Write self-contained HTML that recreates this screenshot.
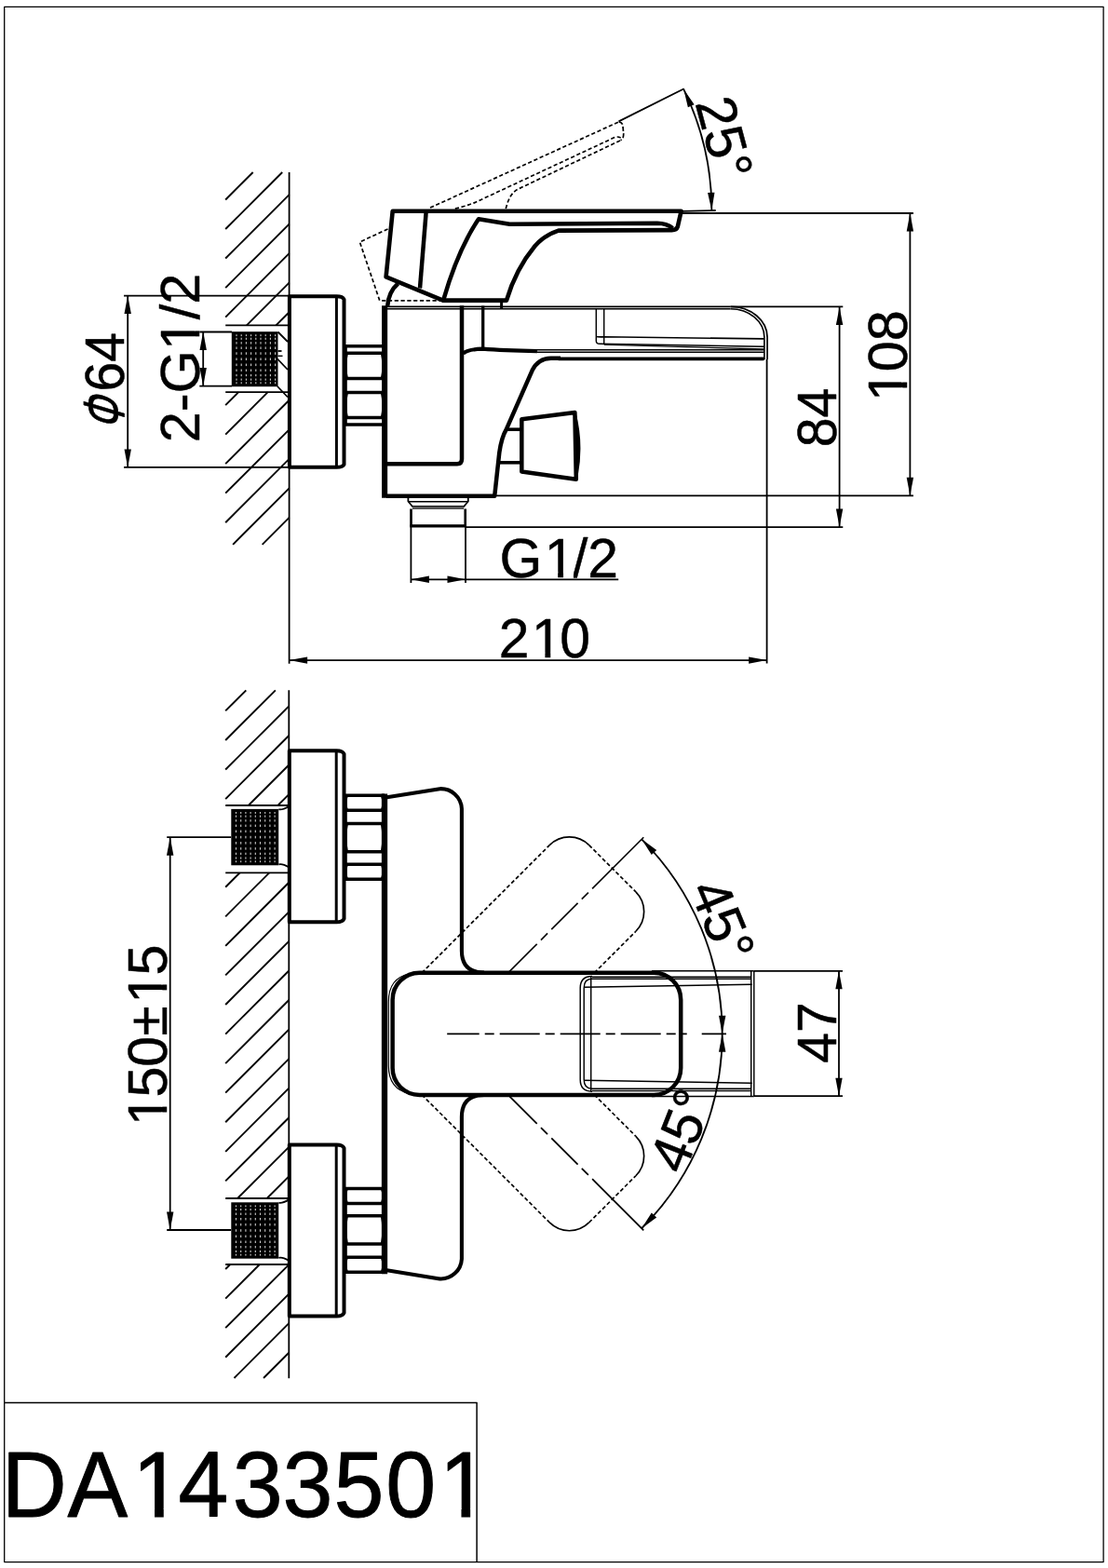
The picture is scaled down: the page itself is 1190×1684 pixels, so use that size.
<!DOCTYPE html>
<html lang="en"><head><meta charset="utf-8"><title>DA1433501</title>
<style>html,body{margin:0;padding:0;background:#fff}svg{display:block}</style></head>
<body>
<svg width="1190" height="1684" viewBox="0 0 1190 1684" font-family="'Liberation Sans', Arial, sans-serif" fill="none" stroke="#000" stroke-linecap="butt" stroke-linejoin="round">
<rect x="0" y="0" width="1190" height="1684" fill="#fff" stroke="none"/>
<g transform="translate(0.00,1629.40) rotate(0) scale(0.97,1)">
<text x="1.86 74.74 146.70 197.42 257.42 312.99 369.69 427.01 486.29" y="0" font-size="100" fill="#000" stroke="#000" stroke-width="0.9">DA1433501</text>
<rect x="152.20" y="-9.00" width="19.00" height="12.50" fill="#fff" stroke="none"/>
<rect x="181.20" y="-9.00" width="18.50" height="12.50" fill="#fff" stroke="none"/>
<rect x="491.79" y="-9.00" width="19.00" height="12.50" fill="#fff" stroke="none"/>
<rect x="520.79" y="-9.00" width="18.50" height="12.50" fill="#fff" stroke="none"/>
</g>
<g transform="translate(746.50,110.50) rotate(75) scale(0.98,1)">
<text x="0.00 33.36 66.72" y="0" font-size="60" fill="#000" stroke="#000" stroke-width="0.5">25°</text>
</g>
<g transform="translate(973.60,432.30) rotate(-90) scale(0.99,1)">
<text x="1.31 33.36 66.72" y="0" font-size="60" fill="#000" stroke="#000" stroke-width="0.5">108</text>
<rect x="4.61" y="-5.40" width="11.40" height="7.50" fill="#fff" stroke="none"/>
<rect x="22.01" y="-5.40" width="11.10" height="7.50" fill="#fff" stroke="none"/>
</g>
<g transform="translate(898.00,480.30) rotate(-90) scale(0.955,1)">
<text x="0.00 33.36" y="0" font-size="60" fill="#000" stroke="#000" stroke-width="0.5">84</text>
</g>
<g transform="translate(535.80,706.20) rotate(0) scale(0.98,1)">
<text x="0.00 35.91 66.72" y="0" font-size="60" fill="#000" stroke="#000" stroke-width="0.5">210</text>
<rect x="39.21" y="-5.40" width="11.40" height="7.50" fill="#fff" stroke="none"/>
<rect x="56.61" y="-5.40" width="11.10" height="7.50" fill="#fff" stroke="none"/>
</g>
<g transform="translate(536.50,619.50) rotate(0) scale(0.98,1)">
<text x="0.00 49.23 80.04 96.72" y="0" font-size="60" fill="#000" stroke="#000" stroke-width="0.5">G1/2</text>
<rect x="52.53" y="-5.40" width="11.40" height="7.50" fill="#fff" stroke="none"/>
<rect x="69.93" y="-5.40" width="11.10" height="7.50" fill="#fff" stroke="none"/>
</g>
<g transform="translate(132.5,457.4) rotate(-90)"><text transform="translate(-4.9,0) skewX(-16.5) scale(0.667,1)" font-size="62" fill="#000" stroke="#000" stroke-width="0.9">Φ</text><text transform="translate(36.9,0) scale(0.95,1)" font-size="60" fill="#000" stroke="#000" stroke-width="0.5">64</text></g>
<g transform="translate(214.30,475.20) rotate(-90) scale(0.99,1)">
<text x="0.00 33.36 53.34 100.32 133.38 150.06" y="0" font-size="60" fill="#000" stroke="#000" stroke-width="0.5">2-G1/2</text>
<rect x="103.62" y="-5.40" width="11.40" height="7.50" fill="#fff" stroke="none"/>
<rect x="121.02" y="-5.40" width="11.10" height="7.50" fill="#fff" stroke="none"/>
</g>
<g transform="translate(740.00,955.50) rotate(67.5) scale(0.98,1)">
<text x="0.00 33.36 66.72" y="0" font-size="60" fill="#000" stroke="#000" stroke-width="0.5">45°</text>
</g>
<g transform="translate(734.40,1262.80) rotate(-68.5) scale(0.98,1)">
<text x="0.00 33.36 66.72" y="0" font-size="60" fill="#000" stroke="#000" stroke-width="0.5">45°</text>
</g>
<g transform="translate(898.00,1141.80) rotate(-90) scale(0.98,1)">
<text x="0.00 33.36" y="0" font-size="60" fill="#000" stroke="#000" stroke-width="0.5">47</text>
</g>
<g transform="translate(178.80,1211.50) rotate(-90) scale(0.986,1)">
<text x="2.54 33.36 66.72 100.08 135.56 166.38" y="0" font-size="60" fill="#000" stroke="#000" stroke-width="0.5">150±15</text>
<rect x="5.84" y="-5.40" width="11.40" height="7.50" fill="#fff" stroke="none"/>
<rect x="23.24" y="-5.40" width="11.10" height="7.50" fill="#fff" stroke="none"/>
<rect x="138.86" y="-5.40" width="11.40" height="7.50" fill="#fff" stroke="none"/>
<rect x="156.26" y="-5.40" width="11.10" height="7.50" fill="#fff" stroke="none"/>
</g>
<rect x="4.7" y="7.4" width="1180.4" height="1670.2" stroke-width="1.3"/>
<path d="M4.7,1506.6 H512.1 V1677.6" stroke-width="1.5" />
<line x1="310.60" y1="185.00" x2="310.60" y2="712.80" stroke-width="1.8" />
<line x1="271.70" y1="185.00" x2="242.20" y2="214.50" stroke-width="1.9" />
<line x1="303.22" y1="185.00" x2="242.20" y2="246.02" stroke-width="1.9" />
<line x1="310.60" y1="209.14" x2="242.20" y2="277.54" stroke-width="1.9" />
<line x1="310.60" y1="240.66" x2="242.20" y2="309.06" stroke-width="1.9" />
<line x1="310.60" y1="272.18" x2="242.20" y2="340.58" stroke-width="1.9" />
<line x1="310.60" y1="303.70" x2="264.90" y2="349.40" stroke-width="1.9" />
<line x1="310.60" y1="335.22" x2="296.42" y2="349.40" stroke-width="1.9" />
<line x1="256.14" y1="421.20" x2="242.20" y2="435.14" stroke-width="1.9" />
<line x1="287.66" y1="421.20" x2="242.20" y2="466.66" stroke-width="1.9" />
<line x1="310.60" y1="429.78" x2="242.20" y2="498.18" stroke-width="1.9" />
<line x1="310.60" y1="461.30" x2="242.20" y2="529.70" stroke-width="1.9" />
<line x1="310.60" y1="492.82" x2="242.20" y2="561.22" stroke-width="1.9" />
<line x1="310.60" y1="524.34" x2="250.14" y2="584.80" stroke-width="1.9" />
<line x1="310.60" y1="555.86" x2="281.66" y2="584.80" stroke-width="1.9" />
<line x1="242.20" y1="349.40" x2="310.60" y2="349.40" stroke-width="1.8" />
<line x1="242.20" y1="421.20" x2="310.60" y2="421.20" stroke-width="1.8" />
<rect x="248.8" y="356.2" width="49.70" height="59.00" fill="#000" stroke="none"/>
<rect x="253.45" y="359.20" width="1.1" height="1.90" fill="#ccc" stroke="none"/>
<rect x="258.65" y="359.20" width="1.1" height="1.90" fill="#ccc" stroke="none"/>
<rect x="263.85" y="359.20" width="1.1" height="1.90" fill="#ccc" stroke="none"/>
<rect x="269.05" y="359.20" width="1.1" height="1.90" fill="#ccc" stroke="none"/>
<rect x="274.25" y="359.20" width="1.1" height="1.90" fill="#ccc" stroke="none"/>
<rect x="279.45" y="359.20" width="1.1" height="1.90" fill="#ccc" stroke="none"/>
<rect x="284.65" y="359.20" width="1.1" height="1.90" fill="#ccc" stroke="none"/>
<rect x="289.85" y="359.20" width="1.1" height="1.90" fill="#ccc" stroke="none"/>
<rect x="295.05" y="359.20" width="1.1" height="1.90" fill="#ccc" stroke="none"/>
<rect x="253.45" y="362.71" width="1.1" height="2.14" fill="#ccc" stroke="none"/>
<rect x="258.65" y="362.71" width="1.1" height="2.14" fill="#ccc" stroke="none"/>
<rect x="263.85" y="362.71" width="1.1" height="2.14" fill="#ccc" stroke="none"/>
<rect x="269.05" y="362.71" width="1.1" height="2.14" fill="#ccc" stroke="none"/>
<rect x="274.25" y="362.71" width="1.1" height="2.14" fill="#ccc" stroke="none"/>
<rect x="279.45" y="362.71" width="1.1" height="2.14" fill="#ccc" stroke="none"/>
<rect x="284.65" y="362.71" width="1.1" height="2.14" fill="#ccc" stroke="none"/>
<rect x="289.85" y="362.71" width="1.1" height="2.14" fill="#ccc" stroke="none"/>
<rect x="295.05" y="362.71" width="1.1" height="2.14" fill="#ccc" stroke="none"/>
<rect x="253.45" y="367.19" width="1.1" height="2.33" fill="#ccc" stroke="none"/>
<rect x="258.65" y="367.19" width="1.1" height="2.33" fill="#ccc" stroke="none"/>
<rect x="263.85" y="367.19" width="1.1" height="2.33" fill="#ccc" stroke="none"/>
<rect x="269.05" y="367.19" width="1.1" height="2.33" fill="#ccc" stroke="none"/>
<rect x="274.25" y="367.19" width="1.1" height="2.33" fill="#ccc" stroke="none"/>
<rect x="279.45" y="367.19" width="1.1" height="2.33" fill="#ccc" stroke="none"/>
<rect x="284.65" y="367.19" width="1.1" height="2.33" fill="#ccc" stroke="none"/>
<rect x="289.85" y="367.19" width="1.1" height="2.33" fill="#ccc" stroke="none"/>
<rect x="295.05" y="367.19" width="1.1" height="2.33" fill="#ccc" stroke="none"/>
<rect x="253.45" y="372.46" width="1.1" height="2.48" fill="#ccc" stroke="none"/>
<rect x="258.65" y="372.46" width="1.1" height="2.48" fill="#ccc" stroke="none"/>
<rect x="263.85" y="372.46" width="1.1" height="2.48" fill="#ccc" stroke="none"/>
<rect x="269.05" y="372.46" width="1.1" height="2.48" fill="#ccc" stroke="none"/>
<rect x="274.25" y="372.46" width="1.1" height="2.48" fill="#ccc" stroke="none"/>
<rect x="279.45" y="372.46" width="1.1" height="2.48" fill="#ccc" stroke="none"/>
<rect x="284.65" y="372.46" width="1.1" height="2.48" fill="#ccc" stroke="none"/>
<rect x="289.85" y="372.46" width="1.1" height="2.48" fill="#ccc" stroke="none"/>
<rect x="295.05" y="372.46" width="1.1" height="2.48" fill="#ccc" stroke="none"/>
<rect x="253.45" y="378.28" width="1.1" height="2.57" fill="#ccc" stroke="none"/>
<rect x="258.65" y="378.28" width="1.1" height="2.57" fill="#ccc" stroke="none"/>
<rect x="263.85" y="378.28" width="1.1" height="2.57" fill="#ccc" stroke="none"/>
<rect x="269.05" y="378.28" width="1.1" height="2.57" fill="#ccc" stroke="none"/>
<rect x="274.25" y="378.28" width="1.1" height="2.57" fill="#ccc" stroke="none"/>
<rect x="279.45" y="378.28" width="1.1" height="2.57" fill="#ccc" stroke="none"/>
<rect x="284.65" y="378.28" width="1.1" height="2.57" fill="#ccc" stroke="none"/>
<rect x="289.85" y="378.28" width="1.1" height="2.57" fill="#ccc" stroke="none"/>
<rect x="295.05" y="378.28" width="1.1" height="2.57" fill="#ccc" stroke="none"/>
<rect x="253.45" y="384.40" width="1.1" height="2.60" fill="#ccc" stroke="none"/>
<rect x="258.65" y="384.40" width="1.1" height="2.60" fill="#ccc" stroke="none"/>
<rect x="263.85" y="384.40" width="1.1" height="2.60" fill="#ccc" stroke="none"/>
<rect x="269.05" y="384.40" width="1.1" height="2.60" fill="#ccc" stroke="none"/>
<rect x="274.25" y="384.40" width="1.1" height="2.60" fill="#ccc" stroke="none"/>
<rect x="279.45" y="384.40" width="1.1" height="2.60" fill="#ccc" stroke="none"/>
<rect x="284.65" y="384.40" width="1.1" height="2.60" fill="#ccc" stroke="none"/>
<rect x="289.85" y="384.40" width="1.1" height="2.60" fill="#ccc" stroke="none"/>
<rect x="295.05" y="384.40" width="1.1" height="2.60" fill="#ccc" stroke="none"/>
<rect x="253.45" y="390.55" width="1.1" height="2.57" fill="#ccc" stroke="none"/>
<rect x="258.65" y="390.55" width="1.1" height="2.57" fill="#ccc" stroke="none"/>
<rect x="263.85" y="390.55" width="1.1" height="2.57" fill="#ccc" stroke="none"/>
<rect x="269.05" y="390.55" width="1.1" height="2.57" fill="#ccc" stroke="none"/>
<rect x="274.25" y="390.55" width="1.1" height="2.57" fill="#ccc" stroke="none"/>
<rect x="279.45" y="390.55" width="1.1" height="2.57" fill="#ccc" stroke="none"/>
<rect x="284.65" y="390.55" width="1.1" height="2.57" fill="#ccc" stroke="none"/>
<rect x="289.85" y="390.55" width="1.1" height="2.57" fill="#ccc" stroke="none"/>
<rect x="295.05" y="390.55" width="1.1" height="2.57" fill="#ccc" stroke="none"/>
<rect x="253.45" y="396.46" width="1.1" height="2.48" fill="#ccc" stroke="none"/>
<rect x="258.65" y="396.46" width="1.1" height="2.48" fill="#ccc" stroke="none"/>
<rect x="263.85" y="396.46" width="1.1" height="2.48" fill="#ccc" stroke="none"/>
<rect x="269.05" y="396.46" width="1.1" height="2.48" fill="#ccc" stroke="none"/>
<rect x="274.25" y="396.46" width="1.1" height="2.48" fill="#ccc" stroke="none"/>
<rect x="279.45" y="396.46" width="1.1" height="2.48" fill="#ccc" stroke="none"/>
<rect x="284.65" y="396.46" width="1.1" height="2.48" fill="#ccc" stroke="none"/>
<rect x="289.85" y="396.46" width="1.1" height="2.48" fill="#ccc" stroke="none"/>
<rect x="295.05" y="396.46" width="1.1" height="2.48" fill="#ccc" stroke="none"/>
<rect x="253.45" y="401.87" width="1.1" height="2.33" fill="#ccc" stroke="none"/>
<rect x="258.65" y="401.87" width="1.1" height="2.33" fill="#ccc" stroke="none"/>
<rect x="263.85" y="401.87" width="1.1" height="2.33" fill="#ccc" stroke="none"/>
<rect x="269.05" y="401.87" width="1.1" height="2.33" fill="#ccc" stroke="none"/>
<rect x="274.25" y="401.87" width="1.1" height="2.33" fill="#ccc" stroke="none"/>
<rect x="279.45" y="401.87" width="1.1" height="2.33" fill="#ccc" stroke="none"/>
<rect x="284.65" y="401.87" width="1.1" height="2.33" fill="#ccc" stroke="none"/>
<rect x="289.85" y="401.87" width="1.1" height="2.33" fill="#ccc" stroke="none"/>
<rect x="295.05" y="401.87" width="1.1" height="2.33" fill="#ccc" stroke="none"/>
<rect x="253.45" y="406.55" width="1.1" height="2.14" fill="#ccc" stroke="none"/>
<rect x="258.65" y="406.55" width="1.1" height="2.14" fill="#ccc" stroke="none"/>
<rect x="263.85" y="406.55" width="1.1" height="2.14" fill="#ccc" stroke="none"/>
<rect x="269.05" y="406.55" width="1.1" height="2.14" fill="#ccc" stroke="none"/>
<rect x="274.25" y="406.55" width="1.1" height="2.14" fill="#ccc" stroke="none"/>
<rect x="279.45" y="406.55" width="1.1" height="2.14" fill="#ccc" stroke="none"/>
<rect x="284.65" y="406.55" width="1.1" height="2.14" fill="#ccc" stroke="none"/>
<rect x="289.85" y="406.55" width="1.1" height="2.14" fill="#ccc" stroke="none"/>
<rect x="295.05" y="406.55" width="1.1" height="2.14" fill="#ccc" stroke="none"/>
<rect x="253.45" y="410.30" width="1.1" height="1.90" fill="#ccc" stroke="none"/>
<rect x="258.65" y="410.30" width="1.1" height="1.90" fill="#ccc" stroke="none"/>
<rect x="263.85" y="410.30" width="1.1" height="1.90" fill="#ccc" stroke="none"/>
<rect x="269.05" y="410.30" width="1.1" height="1.90" fill="#ccc" stroke="none"/>
<rect x="274.25" y="410.30" width="1.1" height="1.90" fill="#ccc" stroke="none"/>
<rect x="279.45" y="410.30" width="1.1" height="1.90" fill="#ccc" stroke="none"/>
<rect x="284.65" y="410.30" width="1.1" height="1.90" fill="#ccc" stroke="none"/>
<rect x="289.85" y="410.30" width="1.1" height="1.90" fill="#ccc" stroke="none"/>
<rect x="295.05" y="410.30" width="1.1" height="1.90" fill="#ccc" stroke="none"/>
<line x1="298.50" y1="356.50" x2="309.00" y2="367.00" stroke-width="1.8" />
<line x1="298.00" y1="385.50" x2="309.00" y2="397.00" stroke-width="1.8" />
<line x1="298.00" y1="415.00" x2="309.00" y2="426.50" stroke-width="1.8" />
<line x1="298.50" y1="377.00" x2="302.50" y2="377.00" stroke-width="1.8" />
<line x1="298.50" y1="382.30" x2="303.50" y2="382.30" stroke-width="1.4" />
<path d="M310.9,318.3 H361.5 Q368,318.3 369.5,321.5 V498.8 Q368,501.8 361.5,501.8 H310.9 Z" stroke-width="4.0" />
<line x1="361.40" y1="318.30" x2="361.40" y2="501.80" stroke-width="3.0" />
<line x1="369.50" y1="371.80" x2="413.00" y2="371.80" stroke-width="3.5" />
<line x1="369.50" y1="379.20" x2="413.00" y2="379.20" stroke-width="3.5" />
<line x1="369.50" y1="406.60" x2="413.00" y2="406.60" stroke-width="3.5" />
<line x1="369.50" y1="421.60" x2="413.00" y2="421.60" stroke-width="3.5" />
<line x1="369.50" y1="448.60" x2="413.00" y2="448.60" stroke-width="3.5" />
<line x1="369.50" y1="456.00" x2="413.00" y2="456.00" stroke-width="3.5" />
<line x1="371.20" y1="371.80" x2="371.20" y2="456.00" stroke-width="3.2" />
<path d="M372.8,379.2 Q369.6,392.9 372.8,406.6" stroke-width="2.4" />
<path d="M410,379.2 Q413,392.9 410,406.6" stroke-width="2.4" />
<path d="M372.8,421.6 Q369.6,435.1 372.8,448.6" stroke-width="2.4" />
<path d="M410,421.6 Q413,435.1 410,448.6" stroke-width="2.4" />
<line x1="413.10" y1="328.30" x2="413.10" y2="534.70" stroke-width="6.1" />
<path d="M415,532.7 H531.2 L536.3,486 Q538.5,470 543.9,460.8 L571.6,397.8 Q578,385 591.7,384.8 H602" stroke-width="4.5" />
<line x1="600.00" y1="385.30" x2="819.50" y2="385.30" stroke-width="3.8" stroke-linecap="round"/>
<path d="M496,328.3 V493 Q496,498.2 491,498.2 H414" stroke-width="4.5" />
<line x1="518.70" y1="328.50" x2="518.70" y2="376.00" stroke-width="3.3" />
<line x1="538.60" y1="325.00" x2="538.60" y2="331.00" stroke-width="3" />
<path d="M497.5,379.5 Q503,375 518.3,374.7 Q540,376.5 577,377.2" stroke-width="4.2" />
<line x1="415.00" y1="329.40" x2="784.70" y2="329.40" stroke-width="1.8" />
<line x1="415.00" y1="331.80" x2="784.70" y2="331.80" stroke-width="1.62" />
<path d="M784.7,329.4 A39.4,32.9 0 0 1 824.1,362.3 V386" stroke-width="1.8" />
<path d="M784.7,331.8 A36.2,30.5 0 0 1 820.9,362.3 V386" stroke-width="1.62" />
<path d="M640.3,331.8 V366 Q640.3,369.2 644,369.3 L820.6,372.3" stroke-width="1.4400000000000002" />
<path d="M648.7,331.8 V369.5" stroke-width="1.4400000000000002" />
<path d="M640.3,361.5 Q642,362 648.7,361.8 L820.6,363.9" stroke-width="1.62" />
<path d="M648.7,370.2 L820.6,375" stroke-width="1.26" />
<line x1="577.00" y1="375.80" x2="820.60" y2="375.80" stroke-width="1.4400000000000002" />
<line x1="577.00" y1="378.30" x2="820.60" y2="378.30" stroke-width="1.4400000000000002" />
<line x1="542.50" y1="461.20" x2="560.00" y2="461.20" stroke-width="3.6" />
<line x1="536.50" y1="496.80" x2="560.00" y2="496.80" stroke-width="3.6" />
<path d="M560.3,450.2 L617.4,443.1 L618.8,514.7 L560.3,506.6 Z" stroke-width="4.5" stroke-linejoin="round"/>
<path d="M617.4,443.1 Q626.5,478.5 618.8,514.7 Z" stroke-width="2.2" fill="#000" stroke-linejoin="round"/>
<path d="M438.4,534.5 V538.5 L443,544 H498.2 L502.8,538.5 V534.5" stroke-width="1.8" />
<line x1="439.00" y1="538.80" x2="502.30" y2="538.80" stroke-width="1.5" />
<line x1="443.00" y1="545.40" x2="498.20" y2="545.40" stroke-width="3.2" stroke="#555"/>
<path d="M441.5,546.5 V564.7 H499.7 V546.5" stroke-width="2.6" />
<line x1="440.30" y1="564.90" x2="500.90" y2="564.90" stroke-width="3.0" />
<path d="M421.7,226.8 H731.6 L727.8,243.5 Q726.5,247.3 721,247.1 L599.8,247.6 C590,251 581,256.5 574.3,264.4 C568,272 553,292 544,322.6 H475.8 L414.6,297.3 Z" stroke-width="4.6" stroke-linejoin="round"/>
<line x1="457.70" y1="227.00" x2="451.00" y2="309.50" stroke-width="4.5" />
<path d="M476.6,321 Q492,268 514,235.3 L547.4,240.7 L705.9,239.8 Q716,240 722.5,245" stroke-width="4.5" stroke-linejoin="round"/>
<path d="M416.1,329 Q417.5,313 427.5,304.5" stroke-width="4.5" />
<path d="M416.5,246 L386.4,259.9 L407.8,322.9 H473.4" stroke-width="1.7" stroke-dasharray="4.2 2.6"/>
<path d="M462,223.1 L664.8,130.8" stroke-width="1.7" stroke-dasharray="4.2 2.6"/>
<path d="M664.8,130.8 Q668.6,131.5 668.9,135 L669.7,143.5 Q669.8,149.5 666.5,150.4" stroke-width="1.7" stroke-dasharray="5 2.2"/>
<path d="M488.8,224.1 Q500,221.5 510.3,217.4 L660,147.6 Q664,146 667.5,148.5" stroke-width="1.7" stroke-dasharray="4.2 2.6"/>
<path d="M543.3,224.1 Q547,208 556,203.3 L667,150.5" stroke-width="1.7" stroke-dasharray="4.2 2.6"/>
<line x1="664.50" y1="130.40" x2="734.70" y2="95.20" stroke-width="1.8" />
<line x1="731.60" y1="226.90" x2="768.70" y2="226.00" stroke-width="1.8" />
<path d="M734.28,95.84 A297.6,297.6 0 0 1 764.40,226.3" stroke-width="1.8" />
<polygon points="734.28,95.84 745.62,112.13 738.87,115.15" fill="#000" stroke="none"/>
<polygon points="764.40,226.30 760.06,206.93 767.45,206.69" fill="#000" stroke="none"/>
<line x1="731.60" y1="229.00" x2="981.00" y2="229.00" stroke-width="1.8" />
<line x1="531.20" y1="532.30" x2="981.00" y2="532.30" stroke-width="1.8" />
<line x1="977.40" y1="229.00" x2="977.40" y2="532.30" stroke-width="1.8" />
<polygon points="977.40,229.00 981.10,248.50 973.70,248.50" fill="#000" stroke="none"/>
<polygon points="977.40,532.30 973.70,512.80 981.10,512.80" fill="#000" stroke="none"/>
<line x1="784.70" y1="329.40" x2="905.30" y2="329.40" stroke-width="1.8" />
<line x1="500.20" y1="566.10" x2="905.30" y2="566.10" stroke-width="1.8" />
<line x1="901.60" y1="329.50" x2="901.60" y2="566.10" stroke-width="1.8" />
<polygon points="901.60,329.50 905.30,349.00 897.90,349.00" fill="#000" stroke="none"/>
<polygon points="901.60,566.10 897.90,546.60 905.30,546.60" fill="#000" stroke="none"/>
<line x1="823.60" y1="386.00" x2="823.60" y2="712.50" stroke-width="1.8" />
<line x1="310.60" y1="709.10" x2="823.60" y2="709.10" stroke-width="1.8" />
<polygon points="310.60,709.10 330.10,705.40 330.10,712.80" fill="#000" stroke="none"/>
<polygon points="823.60,709.10 804.10,712.80 804.10,705.40" fill="#000" stroke="none"/>
<line x1="441.40" y1="565.50" x2="441.40" y2="626.00" stroke-width="1.8" />
<line x1="500.00" y1="565.50" x2="500.00" y2="626.00" stroke-width="1.8" />
<line x1="441.40" y1="622.30" x2="664.20" y2="622.30" stroke-width="1.8" />
<polygon points="441.40,622.30 460.90,618.60 460.90,626.00" fill="#000" stroke="none"/>
<polygon points="500.00,622.30 480.50,626.00 480.50,618.60" fill="#000" stroke="none"/>
<line x1="133.00" y1="317.60" x2="310.60" y2="317.60" stroke-width="1.8" />
<line x1="133.00" y1="501.90" x2="310.60" y2="501.90" stroke-width="1.8" />
<line x1="137.20" y1="317.60" x2="137.20" y2="501.90" stroke-width="1.8" />
<polygon points="137.20,317.60 140.90,337.10 133.50,337.10" fill="#000" stroke="none"/>
<polygon points="137.20,501.90 133.50,482.40 140.90,482.40" fill="#000" stroke="none"/>
<line x1="214.30" y1="356.50" x2="249.00" y2="356.50" stroke-width="1.8" />
<line x1="214.30" y1="414.60" x2="249.00" y2="414.60" stroke-width="1.8" />
<line x1="218.20" y1="356.50" x2="218.20" y2="414.60" stroke-width="1.8" />
<polygon points="218.20,356.50 221.90,376.00 214.50,376.00" fill="#000" stroke="none"/>
<polygon points="218.20,414.60 214.50,395.10 221.90,395.10" fill="#000" stroke="none"/>
<line x1="310.30" y1="741.30" x2="310.30" y2="1480.30" stroke-width="1.8" />
<line x1="264.30" y1="741.30" x2="242.20" y2="763.40" stroke-width="1.9" />
<line x1="295.86" y1="741.30" x2="242.20" y2="794.96" stroke-width="1.9" />
<line x1="310.30" y1="758.42" x2="242.20" y2="826.52" stroke-width="1.9" />
<line x1="310.30" y1="789.98" x2="242.20" y2="858.08" stroke-width="1.9" />
<line x1="310.30" y1="821.54" x2="266.84" y2="865.00" stroke-width="1.9" />
<line x1="310.30" y1="853.10" x2="298.40" y2="865.00" stroke-width="1.9" />
<line x1="257.66" y1="937.30" x2="242.20" y2="952.76" stroke-width="1.9" />
<line x1="289.22" y1="937.30" x2="242.20" y2="984.32" stroke-width="1.9" />
<line x1="310.30" y1="947.78" x2="242.20" y2="1015.88" stroke-width="1.9" />
<line x1="310.30" y1="979.34" x2="242.20" y2="1047.44" stroke-width="1.9" />
<line x1="310.30" y1="1010.90" x2="242.20" y2="1079.00" stroke-width="1.9" />
<line x1="310.30" y1="1042.46" x2="242.20" y2="1110.56" stroke-width="1.9" />
<line x1="310.30" y1="1074.02" x2="242.20" y2="1142.12" stroke-width="1.9" />
<line x1="310.30" y1="1105.58" x2="242.20" y2="1173.68" stroke-width="1.9" />
<line x1="310.30" y1="1137.14" x2="242.20" y2="1205.24" stroke-width="1.9" />
<line x1="310.30" y1="1168.70" x2="242.20" y2="1236.80" stroke-width="1.9" />
<line x1="310.30" y1="1200.26" x2="242.20" y2="1268.36" stroke-width="1.9" />
<line x1="310.30" y1="1231.82" x2="255.12" y2="1287.00" stroke-width="1.9" />
<line x1="310.30" y1="1263.38" x2="286.68" y2="1287.00" stroke-width="1.9" />
<line x1="247.24" y1="1358.00" x2="242.20" y2="1363.04" stroke-width="1.9" />
<line x1="278.80" y1="1358.00" x2="242.20" y2="1394.60" stroke-width="1.9" />
<line x1="310.30" y1="1358.06" x2="242.20" y2="1426.16" stroke-width="1.9" />
<line x1="310.30" y1="1389.62" x2="242.20" y2="1457.72" stroke-width="1.9" />
<line x1="310.30" y1="1421.18" x2="251.48" y2="1480.00" stroke-width="1.9" />
<line x1="310.30" y1="1452.74" x2="283.04" y2="1480.00" stroke-width="1.9" />
<line x1="242.20" y1="865.00" x2="310.30" y2="865.00" stroke-width="1.8" />
<line x1="242.20" y1="937.30" x2="310.30" y2="937.30" stroke-width="1.8" />
<line x1="242.20" y1="1287.00" x2="310.30" y2="1287.00" stroke-width="1.8" />
<line x1="242.20" y1="1358.00" x2="310.30" y2="1358.00" stroke-width="1.8" />
<rect x="248.3" y="868.9" width="50.90" height="60.40" fill="#000" stroke="none"/>
<rect x="252.95" y="872.00" width="1.1" height="1.90" fill="#ccc" stroke="none"/>
<rect x="258.15" y="872.00" width="1.1" height="1.90" fill="#ccc" stroke="none"/>
<rect x="263.35" y="872.00" width="1.1" height="1.90" fill="#ccc" stroke="none"/>
<rect x="268.55" y="872.00" width="1.1" height="1.90" fill="#ccc" stroke="none"/>
<rect x="273.75" y="872.00" width="1.1" height="1.90" fill="#ccc" stroke="none"/>
<rect x="278.95" y="872.00" width="1.1" height="1.90" fill="#ccc" stroke="none"/>
<rect x="284.15" y="872.00" width="1.1" height="1.90" fill="#ccc" stroke="none"/>
<rect x="289.35" y="872.00" width="1.1" height="1.90" fill="#ccc" stroke="none"/>
<rect x="294.55" y="872.00" width="1.1" height="1.90" fill="#ccc" stroke="none"/>
<rect x="252.95" y="875.59" width="1.1" height="2.14" fill="#ccc" stroke="none"/>
<rect x="258.15" y="875.59" width="1.1" height="2.14" fill="#ccc" stroke="none"/>
<rect x="263.35" y="875.59" width="1.1" height="2.14" fill="#ccc" stroke="none"/>
<rect x="268.55" y="875.59" width="1.1" height="2.14" fill="#ccc" stroke="none"/>
<rect x="273.75" y="875.59" width="1.1" height="2.14" fill="#ccc" stroke="none"/>
<rect x="278.95" y="875.59" width="1.1" height="2.14" fill="#ccc" stroke="none"/>
<rect x="284.15" y="875.59" width="1.1" height="2.14" fill="#ccc" stroke="none"/>
<rect x="289.35" y="875.59" width="1.1" height="2.14" fill="#ccc" stroke="none"/>
<rect x="294.55" y="875.59" width="1.1" height="2.14" fill="#ccc" stroke="none"/>
<rect x="252.95" y="880.18" width="1.1" height="2.33" fill="#ccc" stroke="none"/>
<rect x="258.15" y="880.18" width="1.1" height="2.33" fill="#ccc" stroke="none"/>
<rect x="263.35" y="880.18" width="1.1" height="2.33" fill="#ccc" stroke="none"/>
<rect x="268.55" y="880.18" width="1.1" height="2.33" fill="#ccc" stroke="none"/>
<rect x="273.75" y="880.18" width="1.1" height="2.33" fill="#ccc" stroke="none"/>
<rect x="278.95" y="880.18" width="1.1" height="2.33" fill="#ccc" stroke="none"/>
<rect x="284.15" y="880.18" width="1.1" height="2.33" fill="#ccc" stroke="none"/>
<rect x="289.35" y="880.18" width="1.1" height="2.33" fill="#ccc" stroke="none"/>
<rect x="294.55" y="880.18" width="1.1" height="2.33" fill="#ccc" stroke="none"/>
<rect x="252.95" y="885.58" width="1.1" height="2.48" fill="#ccc" stroke="none"/>
<rect x="258.15" y="885.58" width="1.1" height="2.48" fill="#ccc" stroke="none"/>
<rect x="263.35" y="885.58" width="1.1" height="2.48" fill="#ccc" stroke="none"/>
<rect x="268.55" y="885.58" width="1.1" height="2.48" fill="#ccc" stroke="none"/>
<rect x="273.75" y="885.58" width="1.1" height="2.48" fill="#ccc" stroke="none"/>
<rect x="278.95" y="885.58" width="1.1" height="2.48" fill="#ccc" stroke="none"/>
<rect x="284.15" y="885.58" width="1.1" height="2.48" fill="#ccc" stroke="none"/>
<rect x="289.35" y="885.58" width="1.1" height="2.48" fill="#ccc" stroke="none"/>
<rect x="294.55" y="885.58" width="1.1" height="2.48" fill="#ccc" stroke="none"/>
<rect x="252.95" y="891.54" width="1.1" height="2.57" fill="#ccc" stroke="none"/>
<rect x="258.15" y="891.54" width="1.1" height="2.57" fill="#ccc" stroke="none"/>
<rect x="263.35" y="891.54" width="1.1" height="2.57" fill="#ccc" stroke="none"/>
<rect x="268.55" y="891.54" width="1.1" height="2.57" fill="#ccc" stroke="none"/>
<rect x="273.75" y="891.54" width="1.1" height="2.57" fill="#ccc" stroke="none"/>
<rect x="278.95" y="891.54" width="1.1" height="2.57" fill="#ccc" stroke="none"/>
<rect x="284.15" y="891.54" width="1.1" height="2.57" fill="#ccc" stroke="none"/>
<rect x="289.35" y="891.54" width="1.1" height="2.57" fill="#ccc" stroke="none"/>
<rect x="294.55" y="891.54" width="1.1" height="2.57" fill="#ccc" stroke="none"/>
<rect x="252.95" y="897.80" width="1.1" height="2.60" fill="#ccc" stroke="none"/>
<rect x="258.15" y="897.80" width="1.1" height="2.60" fill="#ccc" stroke="none"/>
<rect x="263.35" y="897.80" width="1.1" height="2.60" fill="#ccc" stroke="none"/>
<rect x="268.55" y="897.80" width="1.1" height="2.60" fill="#ccc" stroke="none"/>
<rect x="273.75" y="897.80" width="1.1" height="2.60" fill="#ccc" stroke="none"/>
<rect x="278.95" y="897.80" width="1.1" height="2.60" fill="#ccc" stroke="none"/>
<rect x="284.15" y="897.80" width="1.1" height="2.60" fill="#ccc" stroke="none"/>
<rect x="289.35" y="897.80" width="1.1" height="2.60" fill="#ccc" stroke="none"/>
<rect x="294.55" y="897.80" width="1.1" height="2.60" fill="#ccc" stroke="none"/>
<rect x="252.95" y="904.09" width="1.1" height="2.57" fill="#ccc" stroke="none"/>
<rect x="258.15" y="904.09" width="1.1" height="2.57" fill="#ccc" stroke="none"/>
<rect x="263.35" y="904.09" width="1.1" height="2.57" fill="#ccc" stroke="none"/>
<rect x="268.55" y="904.09" width="1.1" height="2.57" fill="#ccc" stroke="none"/>
<rect x="273.75" y="904.09" width="1.1" height="2.57" fill="#ccc" stroke="none"/>
<rect x="278.95" y="904.09" width="1.1" height="2.57" fill="#ccc" stroke="none"/>
<rect x="284.15" y="904.09" width="1.1" height="2.57" fill="#ccc" stroke="none"/>
<rect x="289.35" y="904.09" width="1.1" height="2.57" fill="#ccc" stroke="none"/>
<rect x="294.55" y="904.09" width="1.1" height="2.57" fill="#ccc" stroke="none"/>
<rect x="252.95" y="910.14" width="1.1" height="2.48" fill="#ccc" stroke="none"/>
<rect x="258.15" y="910.14" width="1.1" height="2.48" fill="#ccc" stroke="none"/>
<rect x="263.35" y="910.14" width="1.1" height="2.48" fill="#ccc" stroke="none"/>
<rect x="268.55" y="910.14" width="1.1" height="2.48" fill="#ccc" stroke="none"/>
<rect x="273.75" y="910.14" width="1.1" height="2.48" fill="#ccc" stroke="none"/>
<rect x="278.95" y="910.14" width="1.1" height="2.48" fill="#ccc" stroke="none"/>
<rect x="284.15" y="910.14" width="1.1" height="2.48" fill="#ccc" stroke="none"/>
<rect x="289.35" y="910.14" width="1.1" height="2.48" fill="#ccc" stroke="none"/>
<rect x="294.55" y="910.14" width="1.1" height="2.48" fill="#ccc" stroke="none"/>
<rect x="252.95" y="915.68" width="1.1" height="2.33" fill="#ccc" stroke="none"/>
<rect x="258.15" y="915.68" width="1.1" height="2.33" fill="#ccc" stroke="none"/>
<rect x="263.35" y="915.68" width="1.1" height="2.33" fill="#ccc" stroke="none"/>
<rect x="268.55" y="915.68" width="1.1" height="2.33" fill="#ccc" stroke="none"/>
<rect x="273.75" y="915.68" width="1.1" height="2.33" fill="#ccc" stroke="none"/>
<rect x="278.95" y="915.68" width="1.1" height="2.33" fill="#ccc" stroke="none"/>
<rect x="284.15" y="915.68" width="1.1" height="2.33" fill="#ccc" stroke="none"/>
<rect x="289.35" y="915.68" width="1.1" height="2.33" fill="#ccc" stroke="none"/>
<rect x="294.55" y="915.68" width="1.1" height="2.33" fill="#ccc" stroke="none"/>
<rect x="252.95" y="920.47" width="1.1" height="2.14" fill="#ccc" stroke="none"/>
<rect x="258.15" y="920.47" width="1.1" height="2.14" fill="#ccc" stroke="none"/>
<rect x="263.35" y="920.47" width="1.1" height="2.14" fill="#ccc" stroke="none"/>
<rect x="268.55" y="920.47" width="1.1" height="2.14" fill="#ccc" stroke="none"/>
<rect x="273.75" y="920.47" width="1.1" height="2.14" fill="#ccc" stroke="none"/>
<rect x="278.95" y="920.47" width="1.1" height="2.14" fill="#ccc" stroke="none"/>
<rect x="284.15" y="920.47" width="1.1" height="2.14" fill="#ccc" stroke="none"/>
<rect x="289.35" y="920.47" width="1.1" height="2.14" fill="#ccc" stroke="none"/>
<rect x="294.55" y="920.47" width="1.1" height="2.14" fill="#ccc" stroke="none"/>
<rect x="252.95" y="924.30" width="1.1" height="1.90" fill="#ccc" stroke="none"/>
<rect x="258.15" y="924.30" width="1.1" height="1.90" fill="#ccc" stroke="none"/>
<rect x="263.35" y="924.30" width="1.1" height="1.90" fill="#ccc" stroke="none"/>
<rect x="268.55" y="924.30" width="1.1" height="1.90" fill="#ccc" stroke="none"/>
<rect x="273.75" y="924.30" width="1.1" height="1.90" fill="#ccc" stroke="none"/>
<rect x="278.95" y="924.30" width="1.1" height="1.90" fill="#ccc" stroke="none"/>
<rect x="284.15" y="924.30" width="1.1" height="1.90" fill="#ccc" stroke="none"/>
<rect x="289.35" y="924.30" width="1.1" height="1.90" fill="#ccc" stroke="none"/>
<rect x="294.55" y="924.30" width="1.1" height="1.90" fill="#ccc" stroke="none"/>
<rect x="248.3" y="1291.3" width="50.90" height="60.40" fill="#000" stroke="none"/>
<rect x="252.95" y="1294.40" width="1.1" height="1.90" fill="#ccc" stroke="none"/>
<rect x="258.15" y="1294.40" width="1.1" height="1.90" fill="#ccc" stroke="none"/>
<rect x="263.35" y="1294.40" width="1.1" height="1.90" fill="#ccc" stroke="none"/>
<rect x="268.55" y="1294.40" width="1.1" height="1.90" fill="#ccc" stroke="none"/>
<rect x="273.75" y="1294.40" width="1.1" height="1.90" fill="#ccc" stroke="none"/>
<rect x="278.95" y="1294.40" width="1.1" height="1.90" fill="#ccc" stroke="none"/>
<rect x="284.15" y="1294.40" width="1.1" height="1.90" fill="#ccc" stroke="none"/>
<rect x="289.35" y="1294.40" width="1.1" height="1.90" fill="#ccc" stroke="none"/>
<rect x="294.55" y="1294.40" width="1.1" height="1.90" fill="#ccc" stroke="none"/>
<rect x="252.95" y="1297.99" width="1.1" height="2.14" fill="#ccc" stroke="none"/>
<rect x="258.15" y="1297.99" width="1.1" height="2.14" fill="#ccc" stroke="none"/>
<rect x="263.35" y="1297.99" width="1.1" height="2.14" fill="#ccc" stroke="none"/>
<rect x="268.55" y="1297.99" width="1.1" height="2.14" fill="#ccc" stroke="none"/>
<rect x="273.75" y="1297.99" width="1.1" height="2.14" fill="#ccc" stroke="none"/>
<rect x="278.95" y="1297.99" width="1.1" height="2.14" fill="#ccc" stroke="none"/>
<rect x="284.15" y="1297.99" width="1.1" height="2.14" fill="#ccc" stroke="none"/>
<rect x="289.35" y="1297.99" width="1.1" height="2.14" fill="#ccc" stroke="none"/>
<rect x="294.55" y="1297.99" width="1.1" height="2.14" fill="#ccc" stroke="none"/>
<rect x="252.95" y="1302.58" width="1.1" height="2.33" fill="#ccc" stroke="none"/>
<rect x="258.15" y="1302.58" width="1.1" height="2.33" fill="#ccc" stroke="none"/>
<rect x="263.35" y="1302.58" width="1.1" height="2.33" fill="#ccc" stroke="none"/>
<rect x="268.55" y="1302.58" width="1.1" height="2.33" fill="#ccc" stroke="none"/>
<rect x="273.75" y="1302.58" width="1.1" height="2.33" fill="#ccc" stroke="none"/>
<rect x="278.95" y="1302.58" width="1.1" height="2.33" fill="#ccc" stroke="none"/>
<rect x="284.15" y="1302.58" width="1.1" height="2.33" fill="#ccc" stroke="none"/>
<rect x="289.35" y="1302.58" width="1.1" height="2.33" fill="#ccc" stroke="none"/>
<rect x="294.55" y="1302.58" width="1.1" height="2.33" fill="#ccc" stroke="none"/>
<rect x="252.95" y="1307.98" width="1.1" height="2.48" fill="#ccc" stroke="none"/>
<rect x="258.15" y="1307.98" width="1.1" height="2.48" fill="#ccc" stroke="none"/>
<rect x="263.35" y="1307.98" width="1.1" height="2.48" fill="#ccc" stroke="none"/>
<rect x="268.55" y="1307.98" width="1.1" height="2.48" fill="#ccc" stroke="none"/>
<rect x="273.75" y="1307.98" width="1.1" height="2.48" fill="#ccc" stroke="none"/>
<rect x="278.95" y="1307.98" width="1.1" height="2.48" fill="#ccc" stroke="none"/>
<rect x="284.15" y="1307.98" width="1.1" height="2.48" fill="#ccc" stroke="none"/>
<rect x="289.35" y="1307.98" width="1.1" height="2.48" fill="#ccc" stroke="none"/>
<rect x="294.55" y="1307.98" width="1.1" height="2.48" fill="#ccc" stroke="none"/>
<rect x="252.95" y="1313.94" width="1.1" height="2.57" fill="#ccc" stroke="none"/>
<rect x="258.15" y="1313.94" width="1.1" height="2.57" fill="#ccc" stroke="none"/>
<rect x="263.35" y="1313.94" width="1.1" height="2.57" fill="#ccc" stroke="none"/>
<rect x="268.55" y="1313.94" width="1.1" height="2.57" fill="#ccc" stroke="none"/>
<rect x="273.75" y="1313.94" width="1.1" height="2.57" fill="#ccc" stroke="none"/>
<rect x="278.95" y="1313.94" width="1.1" height="2.57" fill="#ccc" stroke="none"/>
<rect x="284.15" y="1313.94" width="1.1" height="2.57" fill="#ccc" stroke="none"/>
<rect x="289.35" y="1313.94" width="1.1" height="2.57" fill="#ccc" stroke="none"/>
<rect x="294.55" y="1313.94" width="1.1" height="2.57" fill="#ccc" stroke="none"/>
<rect x="252.95" y="1320.20" width="1.1" height="2.60" fill="#ccc" stroke="none"/>
<rect x="258.15" y="1320.20" width="1.1" height="2.60" fill="#ccc" stroke="none"/>
<rect x="263.35" y="1320.20" width="1.1" height="2.60" fill="#ccc" stroke="none"/>
<rect x="268.55" y="1320.20" width="1.1" height="2.60" fill="#ccc" stroke="none"/>
<rect x="273.75" y="1320.20" width="1.1" height="2.60" fill="#ccc" stroke="none"/>
<rect x="278.95" y="1320.20" width="1.1" height="2.60" fill="#ccc" stroke="none"/>
<rect x="284.15" y="1320.20" width="1.1" height="2.60" fill="#ccc" stroke="none"/>
<rect x="289.35" y="1320.20" width="1.1" height="2.60" fill="#ccc" stroke="none"/>
<rect x="294.55" y="1320.20" width="1.1" height="2.60" fill="#ccc" stroke="none"/>
<rect x="252.95" y="1326.49" width="1.1" height="2.57" fill="#ccc" stroke="none"/>
<rect x="258.15" y="1326.49" width="1.1" height="2.57" fill="#ccc" stroke="none"/>
<rect x="263.35" y="1326.49" width="1.1" height="2.57" fill="#ccc" stroke="none"/>
<rect x="268.55" y="1326.49" width="1.1" height="2.57" fill="#ccc" stroke="none"/>
<rect x="273.75" y="1326.49" width="1.1" height="2.57" fill="#ccc" stroke="none"/>
<rect x="278.95" y="1326.49" width="1.1" height="2.57" fill="#ccc" stroke="none"/>
<rect x="284.15" y="1326.49" width="1.1" height="2.57" fill="#ccc" stroke="none"/>
<rect x="289.35" y="1326.49" width="1.1" height="2.57" fill="#ccc" stroke="none"/>
<rect x="294.55" y="1326.49" width="1.1" height="2.57" fill="#ccc" stroke="none"/>
<rect x="252.95" y="1332.54" width="1.1" height="2.48" fill="#ccc" stroke="none"/>
<rect x="258.15" y="1332.54" width="1.1" height="2.48" fill="#ccc" stroke="none"/>
<rect x="263.35" y="1332.54" width="1.1" height="2.48" fill="#ccc" stroke="none"/>
<rect x="268.55" y="1332.54" width="1.1" height="2.48" fill="#ccc" stroke="none"/>
<rect x="273.75" y="1332.54" width="1.1" height="2.48" fill="#ccc" stroke="none"/>
<rect x="278.95" y="1332.54" width="1.1" height="2.48" fill="#ccc" stroke="none"/>
<rect x="284.15" y="1332.54" width="1.1" height="2.48" fill="#ccc" stroke="none"/>
<rect x="289.35" y="1332.54" width="1.1" height="2.48" fill="#ccc" stroke="none"/>
<rect x="294.55" y="1332.54" width="1.1" height="2.48" fill="#ccc" stroke="none"/>
<rect x="252.95" y="1338.08" width="1.1" height="2.33" fill="#ccc" stroke="none"/>
<rect x="258.15" y="1338.08" width="1.1" height="2.33" fill="#ccc" stroke="none"/>
<rect x="263.35" y="1338.08" width="1.1" height="2.33" fill="#ccc" stroke="none"/>
<rect x="268.55" y="1338.08" width="1.1" height="2.33" fill="#ccc" stroke="none"/>
<rect x="273.75" y="1338.08" width="1.1" height="2.33" fill="#ccc" stroke="none"/>
<rect x="278.95" y="1338.08" width="1.1" height="2.33" fill="#ccc" stroke="none"/>
<rect x="284.15" y="1338.08" width="1.1" height="2.33" fill="#ccc" stroke="none"/>
<rect x="289.35" y="1338.08" width="1.1" height="2.33" fill="#ccc" stroke="none"/>
<rect x="294.55" y="1338.08" width="1.1" height="2.33" fill="#ccc" stroke="none"/>
<rect x="252.95" y="1342.87" width="1.1" height="2.14" fill="#ccc" stroke="none"/>
<rect x="258.15" y="1342.87" width="1.1" height="2.14" fill="#ccc" stroke="none"/>
<rect x="263.35" y="1342.87" width="1.1" height="2.14" fill="#ccc" stroke="none"/>
<rect x="268.55" y="1342.87" width="1.1" height="2.14" fill="#ccc" stroke="none"/>
<rect x="273.75" y="1342.87" width="1.1" height="2.14" fill="#ccc" stroke="none"/>
<rect x="278.95" y="1342.87" width="1.1" height="2.14" fill="#ccc" stroke="none"/>
<rect x="284.15" y="1342.87" width="1.1" height="2.14" fill="#ccc" stroke="none"/>
<rect x="289.35" y="1342.87" width="1.1" height="2.14" fill="#ccc" stroke="none"/>
<rect x="294.55" y="1342.87" width="1.1" height="2.14" fill="#ccc" stroke="none"/>
<rect x="252.95" y="1346.70" width="1.1" height="1.90" fill="#ccc" stroke="none"/>
<rect x="258.15" y="1346.70" width="1.1" height="1.90" fill="#ccc" stroke="none"/>
<rect x="263.35" y="1346.70" width="1.1" height="1.90" fill="#ccc" stroke="none"/>
<rect x="268.55" y="1346.70" width="1.1" height="1.90" fill="#ccc" stroke="none"/>
<rect x="273.75" y="1346.70" width="1.1" height="1.90" fill="#ccc" stroke="none"/>
<rect x="278.95" y="1346.70" width="1.1" height="1.90" fill="#ccc" stroke="none"/>
<rect x="284.15" y="1346.70" width="1.1" height="1.90" fill="#ccc" stroke="none"/>
<rect x="289.35" y="1346.70" width="1.1" height="1.90" fill="#ccc" stroke="none"/>
<rect x="294.55" y="1346.70" width="1.1" height="1.90" fill="#ccc" stroke="none"/>
<path d="M299.4,869.2 Q303,870.2 310,866.2" stroke-width="1.8" />
<path d="M299.4,928.4000000000001 Q303,927.2 310,931.2" stroke-width="1.8" />
<path d="M299.4,1291.6 Q303,1292.6 310,1288.6" stroke-width="1.8" />
<path d="M299.4,1350.8 Q303,1349.6 310,1353.6" stroke-width="1.8" />
<path d="M310.8,806.2 H361.5 Q368,806.2 369.5,809.7 V986.7 Q368,990.2 361.5,990.2 H310.8 Z" stroke-width="4.0" />
<line x1="361.20" y1="806.20" x2="361.20" y2="990.20" stroke-width="3.0" />
<path d="M310.8,1229.5 H361.5 Q368,1229.5 369.5,1233.0 V1410.0 Q368,1413.5 361.5,1413.5 H310.8 Z" stroke-width="4.0" />
<line x1="361.20" y1="1229.50" x2="361.20" y2="1413.50" stroke-width="3.0" />
<line x1="369.50" y1="854.30" x2="413.00" y2="854.30" stroke-width="3.5" />
<line x1="369.50" y1="870.30" x2="413.00" y2="870.30" stroke-width="3.5" />
<line x1="369.50" y1="884.50" x2="413.00" y2="884.50" stroke-width="3.5" />
<line x1="369.50" y1="914.80" x2="413.00" y2="914.80" stroke-width="3.5" />
<line x1="369.50" y1="928.20" x2="413.00" y2="928.20" stroke-width="3.5" />
<line x1="369.50" y1="944.20" x2="413.00" y2="944.20" stroke-width="3.5" />
<line x1="371.20" y1="854.30" x2="371.20" y2="944.20" stroke-width="3.2" />
<path d="M372.8,854.3 Q369.6,862.3 372.8,870.3" stroke-width="2.4" />
<path d="M410,854.3 Q413,862.3 410,870.3" stroke-width="2.4" />
<path d="M372.8,884.5 Q369.6,899.65 372.8,914.8" stroke-width="2.4" />
<path d="M410,884.5 Q413,899.65 410,914.8" stroke-width="2.4" />
<path d="M372.8,928.2 Q369.6,936.2 372.8,944.2" stroke-width="2.4" />
<path d="M410,928.2 Q413,936.2 410,944.2" stroke-width="2.4" />
<line x1="369.50" y1="1276.40" x2="413.00" y2="1276.40" stroke-width="3.5" />
<line x1="369.50" y1="1292.40" x2="413.00" y2="1292.40" stroke-width="3.5" />
<line x1="369.50" y1="1305.80" x2="413.00" y2="1305.80" stroke-width="3.5" />
<line x1="369.50" y1="1336.10" x2="413.00" y2="1336.10" stroke-width="3.5" />
<line x1="369.50" y1="1350.30" x2="413.00" y2="1350.30" stroke-width="3.5" />
<line x1="369.50" y1="1366.30" x2="413.00" y2="1366.30" stroke-width="3.5" />
<line x1="371.20" y1="1276.40" x2="371.20" y2="1366.30" stroke-width="3.2" />
<path d="M372.8,1276.3999999999999 Q369.6,1284.3999999999999 372.8,1292.3999999999999" stroke-width="2.4" />
<path d="M410,1276.3999999999999 Q413,1284.3999999999999 410,1292.3999999999999" stroke-width="2.4" />
<path d="M372.8,1305.8 Q369.6,1320.9499999999998 372.8,1336.1" stroke-width="2.4" />
<path d="M410,1305.8 Q413,1320.9499999999998 410,1336.1" stroke-width="2.4" />
<path d="M372.8,1350.3 Q369.6,1358.3 372.8,1366.3" stroke-width="2.4" />
<path d="M410,1350.3 Q413,1358.3 410,1366.3" stroke-width="2.4" />
<path d="M413.0,852.4 V1368.2" stroke-width="6.3" />
<path d="M414,856.6 L472.4,847.2 A22.5,22.5 0 0 1 495.9,868.5 V1021 Q495.9,1044.6 520,1044.6" stroke-width="4.1" />
<path d="M414,1364 L472.4,1373.4 A22.5,22.5 0 0 0 495.9,1352.1 V1199.6 Q495.9,1176 520,1176" stroke-width="4.1" />
<path d="M453.05,1044.82 L590.23,907.64" stroke-width="1.7" stroke-dasharray="4.2 2.6"/>
<path d="M590.23,907.64 A30,30 0 0 1 632.65,907.64" stroke-width="1.7" />
<path d="M632.65,907.64 L682.86,957.85" stroke-width="1.7" stroke-dasharray="4.2 2.6"/>
<path d="M682.86,957.85 A30,30 0 0 1 682.86,1000.27" stroke-width="1.7" />
<path d="M638.31,1044.82 L682.86,1000.27" stroke-width="1.7" stroke-dasharray="4.2 2.6"/>
<path d="M691.27,899.23 L545.68,1044.82" stroke-width="1.7" stroke-dasharray="78 6 10 6 40 6 10 6 60"/>
<path d="M453.05,1175.78 L590.23,1312.96" stroke-width="1.7" stroke-dasharray="4.2 2.6"/>
<path d="M590.23,1312.96 A30,30 0 0 0 632.65,1312.96" stroke-width="1.7" />
<path d="M632.65,1312.96 L682.86,1262.75" stroke-width="1.7" stroke-dasharray="4.2 2.6"/>
<path d="M682.86,1262.75 A30,30 0 0 0 682.86,1220.33" stroke-width="1.7" />
<path d="M638.31,1175.78 L682.86,1220.33" stroke-width="1.7" stroke-dasharray="4.2 2.6"/>
<path d="M691.27,1321.37 L545.68,1175.78" stroke-width="1.7" stroke-dasharray="78 6 10 6 40 6 10 6 60"/>
<line x1="480.20" y1="1110.30" x2="780.00" y2="1110.30" stroke-width="1.7" stroke-dasharray="34.5 6 10 6 43 6 10 6 43 6 10 6 43 6 10 6 6 16 60"/>
<line x1="700.00" y1="1042.80" x2="809.80" y2="1042.80" stroke-width="1.45" />
<line x1="700.00" y1="1177.40" x2="809.80" y2="1177.40" stroke-width="1.45" />
<line x1="636.00" y1="1049.20" x2="807.00" y2="1049.20" stroke-width="1.45" />
<line x1="636.00" y1="1051.30" x2="807.00" y2="1051.30" stroke-width="1.45" />
<line x1="636.00" y1="1171.40" x2="807.00" y2="1171.40" stroke-width="1.45" />
<line x1="636.00" y1="1169.30" x2="807.00" y2="1169.30" stroke-width="1.45" />
<line x1="627.20" y1="1060.30" x2="807.70" y2="1057.30" stroke-width="1.45" />
<line x1="627.20" y1="1160.30" x2="807.70" y2="1163.30" stroke-width="1.45" />
<line x1="806.70" y1="1042.80" x2="806.70" y2="1177.40" stroke-width="1.45" />
<line x1="809.80" y1="1042.80" x2="809.80" y2="1177.40" stroke-width="1.45" />
<path d="M636,1048.4 Q623.2,1048.4 623.2,1061 V1159.6 Q623.2,1172.2 636,1172.2" stroke-width="1.45" />
<path d="M636,1051.3 Q627.2,1051.3 627.2,1061 V1159.6 Q627.2,1169.3 636,1169.3" stroke-width="1.45" />
<line x1="634.70" y1="1048.40" x2="634.70" y2="1172.20" stroke-width="1.45" />
<path d="M450.6,1044.7 H702.2 A29,29 0 0 1 731.2,1073.7 V1147 A29,29 0 0 1 702.2,1176 H450.6 A29,29 0 0 1 421.6,1147 V1073.7 A29,29 0 0 1 450.6,1044.7 Z" stroke-width="4.5" />
<path d="M440,1046 Q417.3,1050 417.3,1076 V1144.6 Q417.3,1170 440,1174.6" stroke-width="1.2" />
<path d="M689.15,901.35 A295.5,295.5 0 0 1 775.70,1110.3" stroke-width="1.8" />
<polygon points="689.15,901.35 705.18,913.06 699.77,918.12" fill="#000" stroke="none"/>
<polygon points="775.70,1110.30 772.00,1090.80 779.40,1090.80" fill="#000" stroke="none"/>
<path d="M689.15,1319.25 A295.5,295.5 0 0 0 775.70,1110.3" stroke-width="1.8" />
<polygon points="689.15,1319.25 699.77,1302.48 705.18,1307.54" fill="#000" stroke="none"/>
<polygon points="775.70,1110.30 779.40,1129.80 772.00,1129.80" fill="#000" stroke="none"/>
<line x1="810.00" y1="1042.80" x2="905.00" y2="1042.80" stroke-width="1.8" />
<line x1="810.00" y1="1177.20" x2="905.00" y2="1177.20" stroke-width="1.8" />
<line x1="901.00" y1="1042.80" x2="901.00" y2="1177.20" stroke-width="1.8" />
<polygon points="901.00,1042.80 904.70,1062.30 897.30,1062.30" fill="#000" stroke="none"/>
<polygon points="901.00,1177.20 897.30,1157.70 904.70,1157.70" fill="#000" stroke="none"/>
<line x1="179.20" y1="899.20" x2="248.20" y2="899.20" stroke-width="1.8" />
<line x1="179.20" y1="1321.00" x2="248.20" y2="1321.00" stroke-width="1.8" />
<line x1="182.70" y1="899.20" x2="182.70" y2="1321.00" stroke-width="1.8" />
<polygon points="182.70,899.20 186.40,918.70 179.00,918.70" fill="#000" stroke="none"/>
<polygon points="182.70,1321.00 179.00,1301.50 186.40,1301.50" fill="#000" stroke="none"/>
</svg>
</body></html>
